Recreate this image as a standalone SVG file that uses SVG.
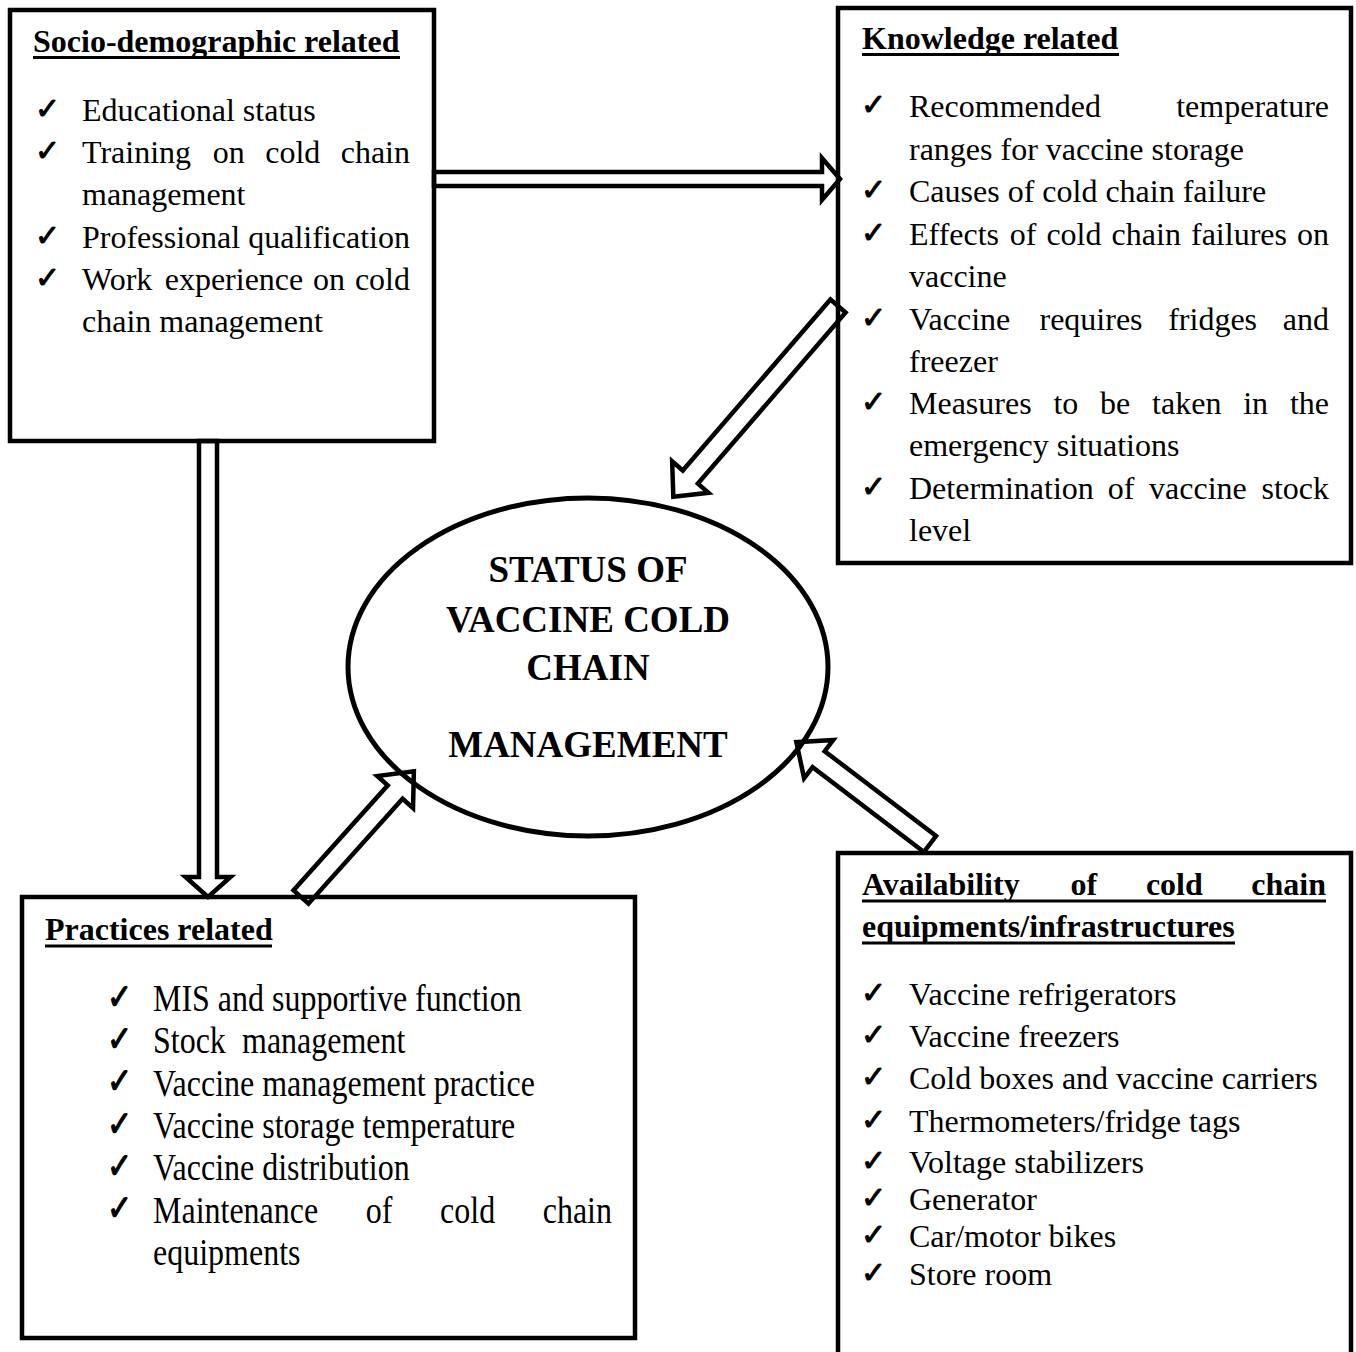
<svg xmlns="http://www.w3.org/2000/svg" width="1356" height="1352" viewBox="0 0 1356 1352">
<style>
.box{fill:none;stroke:#000;stroke-width:4.5}
.arr{fill:#fff;stroke:#000;stroke-width:4.5;stroke-linejoin:miter}
.t{font-family:"Liberation Serif","Times New Roman",serif;font-size:32px;fill:#000}
.h{font-family:"Liberation Serif","Times New Roman",serif;font-size:32px;font-weight:bold;fill:#000}
.c{font-family:"DejaVu Sans",sans-serif;font-size:30px;fill:#000;stroke:#000;stroke-width:1}
.u{stroke:#000;stroke-width:3}
.e{font-family:"Liberation Serif","Times New Roman",serif;font-size:37px;font-weight:bold;fill:#000;text-anchor:middle}
</style>
<rect width="1356" height="1352" fill="#fff"/>
<g id="connectors">
<path class="arr" transform="translate(434,179)" d="M0,-7 L388,-7 L388,-21 L406,0 L388,21 L388,7 L0,7 Z"/>
<path class="arr" transform="translate(208,441) rotate(90)" d="M0,-9 L436,-9 L436,-22.5 L456,0 L436,22.5 L436,9 L0,9 Z"/>
<path class="arr" transform="translate(838,306) rotate(130.8)" d="M0,-10 L226,-10 L226,-24 L252,0 L226,24 L226,10 L0,10 Z"/>
<path class="arr" transform="translate(301,897) rotate(-48.1)" d="M0,-10 L141,-10 L141,-24 L169,0 L141,24 L141,10 L0,10 Z"/>
<path class="arr" transform="translate(930,844) rotate(-142.7)" d="M0,-10 L140,-10 L140,-24 L168,0 L140,24 L140,10 L0,10 Z"/>
</g>
<g id="socio">
<rect class="box" x="10" y="10" width="424" height="431"/>
<text class="h" x="33" y="52">Socio-demographic related</text>
<line class="u" x1="33" y1="57.5" x2="400" y2="57.5"/>
<text class="c" x="35" y="119">✓</text>
<text class="t" x="82" y="121">Educational status</text>
<text class="c" x="35" y="161">✓</text>
<text class="t" y="163"><tspan x="82">Training</tspan><tspan x="212.7">on</tspan><tspan x="265.2">cold</tspan><tspan x="410" text-anchor="end">chain</tspan></text>
<text class="t" x="82" y="205">management</text>
<text class="c" x="35" y="246">✓</text>
<text class="t" x="82" y="248">Professional qualification</text>
<text class="c" x="35" y="288">✓</text>
<text class="t" y="290"><tspan x="82">Work</tspan><tspan x="164.7">experience</tspan><tspan x="313.1">on</tspan><tspan x="410" text-anchor="end">cold</tspan></text>
<text class="t" x="82" y="332">chain management</text>
</g>
<g id="knowledge">
<rect class="box" x="838" y="8" width="513" height="555"/>
<text class="h" x="862" y="49">Knowledge related</text>
<line class="u" x1="862" y1="54.5" x2="1119" y2="54.5"/>
<text class="c" x="861" y="115">✓</text>
<text class="t" y="117"><tspan x="909">Recommended</tspan><tspan x="1329" text-anchor="end">temperature</tspan></text>
<text class="t" x="909" y="160">ranges for vaccine storage</text>
<text class="c" x="861" y="200">✓</text>
<text class="t" x="909" y="202">Causes of cold chain failure</text>
<text class="c" x="861" y="243">✓</text>
<text class="t" y="245"><tspan x="909">Effects</tspan><tspan x="1009.7">of</tspan><tspan x="1046.4">cold</tspan><tspan x="1111.6">chain</tspan><tspan x="1191">failures</tspan><tspan x="1329" text-anchor="end">on</tspan></text>
<text class="t" x="909" y="287">vaccine</text>
<text class="c" x="861" y="328">✓</text>
<text class="t" y="330"><tspan x="909">Vaccine</tspan><tspan x="1039.5">requires</tspan><tspan x="1168.2">fridges</tspan><tspan x="1329" text-anchor="end">and</tspan></text>
<text class="t" x="909" y="372">freezer</text>
<text class="c" x="861" y="412">✓</text>
<text class="t" y="414"><tspan x="909">Measures</tspan><tspan x="1053.4">to</tspan><tspan x="1100.1">be</tspan><tspan x="1152.1">taken</tspan><tspan x="1243.2">in</tspan><tspan x="1329" text-anchor="end">the</tspan></text>
<text class="t" x="909" y="456">emergency situations</text>
<text class="c" x="861" y="497">✓</text>
<text class="t" y="499"><tspan x="909">Determination</tspan><tspan x="1107.8">of</tspan><tspan x="1149.1">vaccine</tspan><tspan x="1329" text-anchor="end">stock</tspan></text>
<text class="t" x="909" y="541">level</text>
</g>
<g id="practices">
<rect class="box" x="22" y="897" width="613" height="441"/>
<text class="h" x="45" y="940">Practices related</text>
<line class="u" x1="45" y1="946" x2="272" y2="946"/>
<g transform="translate(0,1011) scale(1,1.18) translate(0,-1011)">
<text class="c" x="107" y="1009">✓</text>
<text class="t" x="153" y="1011">MIS and supportive function</text>
<text class="c" x="107" y="1044.85">✓</text>
<text class="t" y="1046.85"><tspan x="153">Stock</tspan><tspan x="242">management</tspan></text>
<text class="c" x="107" y="1080.7">✓</text>
<text class="t" x="153" y="1082.7">Vaccine management practice</text>
<text class="c" x="107" y="1116.55">✓</text>
<text class="t" x="153" y="1118.55">Vaccine storage temperature</text>
<text class="c" x="107" y="1152.4">✓</text>
<text class="t" x="153" y="1154.4">Vaccine distribution</text>
<text class="c" x="107" y="1188.25">✓</text>
<text class="t" y="1190.25"><tspan x="153">Maintenance</tspan><tspan x="365.8">of</tspan><tspan x="440.1">cold</tspan><tspan x="612" text-anchor="end">chain</tspan></text>
<text class="t" x="153" y="1226.1">equipments</text>
</g>
</g>
<g id="availability">
<rect class="box" x="838" y="853" width="513" height="520"/>
<text class="h" y="895"><tspan x="862">Availability</tspan><tspan x="1070.6">of</tspan><tspan x="1145.9">cold</tspan><tspan x="1326" text-anchor="end">chain</tspan></text>
<line class="u" x1="862" y1="901" x2="1326" y2="901"/>
<text class="h" x="862" y="937">equipments/infrastructures</text>
<line class="u" x1="862" y1="943" x2="1235" y2="943"/>
<text class="c" x="861" y="1003">✓</text>
<text class="t" x="909" y="1005">Vaccine refrigerators</text>
<text class="c" x="861" y="1045">✓</text>
<text class="t" x="909" y="1047">Vaccine freezers</text>
<text class="c" x="861" y="1087">✓</text>
<text class="t" x="909" y="1089">Cold boxes and vaccine carriers</text>
<text class="c" x="861" y="1130">✓</text>
<text class="t" x="909" y="1132">Thermometers/fridge tags</text>
<text class="c" x="861" y="1171">✓</text>
<text class="t" x="909" y="1173">Voltage stabilizers</text>
<text class="c" x="861" y="1208">✓</text>
<text class="t" x="909" y="1210">Generator</text>
<text class="c" x="861" y="1245">✓</text>
<text class="t" x="909" y="1247">Car/motor bikes</text>
<text class="c" x="861" y="1283">✓</text>
<text class="t" x="909" y="1285">Store room</text>
</g>
<g id="status">
<ellipse cx="588" cy="667" rx="240" ry="169" fill="none" stroke="#000" stroke-width="5"/>
<text class="e" x="588" y="582">STATUS OF</text>
<text class="e" x="588" y="632">VACCINE COLD</text>
<text class="e" x="588" y="680">CHAIN</text>
<text class="e" x="588" y="757">MANAGEMENT</text>
</g>
</svg>
